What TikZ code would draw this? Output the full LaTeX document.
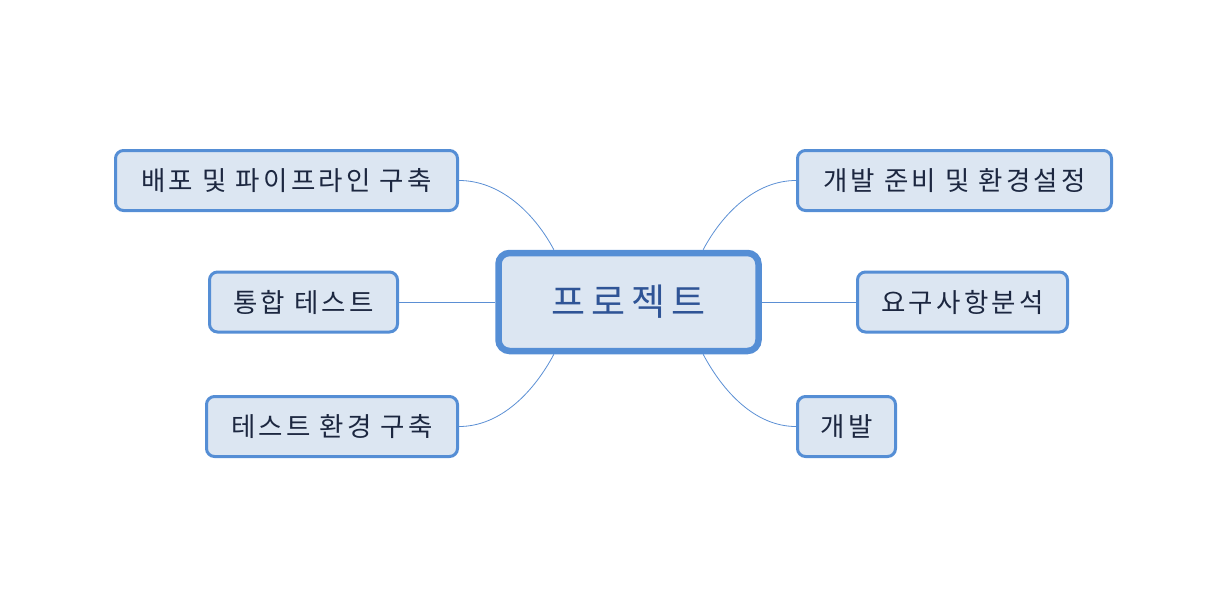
\documentclass[tikz,border=0pt]{standalone}
\usepackage{fontspec}
\setmainfont{Noto Sans CJK KR}
\newfontfamily\kr{Noto Sans CJK KR}
\newfontfamily\krsp[LetterSpace=12]{Noto Sans CJK KR}
\definecolor{bordc}{HTML}{558ED5}
\definecolor{fillc}{HTML}{DCE6F2}
\definecolor{linec}{HTML}{5B8FD4}
\definecolor{txtc}{HTML}{1C2740}
\definecolor{ctxt}{HTML}{2F5496}
\begin{document}
\begin{tikzpicture}[x=1pt,y=-1pt,
  leaf/.style={draw=bordc, fill=fillc, line width=3pt, rounded corners=8pt,
    minimum height=60pt, inner sep=0pt, text=txtc,
    font=\krsp\fontsize{26.5}{30}\selectfont},
  hub/.style={draw=bordc, fill=fillc, line width=6.5pt, rounded corners=11pt,
    minimum width=260pt, minimum height=98pt, inner sep=0pt, text=ctxt,
    font=\kr\fontsize{37}{42}\selectfont},
  link/.style={draw=linec, line width=0.8pt}]
\useasboundingbox (0,0) rectangle (1227,592);
\node[hub] (c) at (628.5,302) {프\hspace{6pt}로\hspace{6pt}젝\hspace{6pt}트};
\node[leaf, minimum width=342pt] (a) at (286.5,180.5) {배포 및 파이프라인 구축};
\node[leaf, minimum width=314pt] (b) at (954.5,180.5) {개발 준비 및 환경설정};
\node[leaf, minimum width=188pt] (d) at (303.5,302) {통합 테스트};
\node[leaf, minimum width=210pt] (e) at (962.5,302) {요구사항분석};
\node[leaf, minimum width=251pt] (f) at (332,426.5) {테스트 환경 구축};
\node[leaf, minimum width=98pt] (g) at (846.5,426.5) {개발};
\draw[link] (a.east) to[out=0,in=118,looseness=0.9] (c.145);
\draw[link] (b.west) to[out=180,in=62,looseness=0.9] (c.35);
\draw[link] (f.east) to[out=0,in=242,looseness=0.9] (c.215);
\draw[link] (g.west) to[out=180,in=298,looseness=0.9] (c.325);
\draw[link] (d.east) -- (c.west);
\draw[link] (e.west) -- (c.east);
\end{tikzpicture}
\end{document}
